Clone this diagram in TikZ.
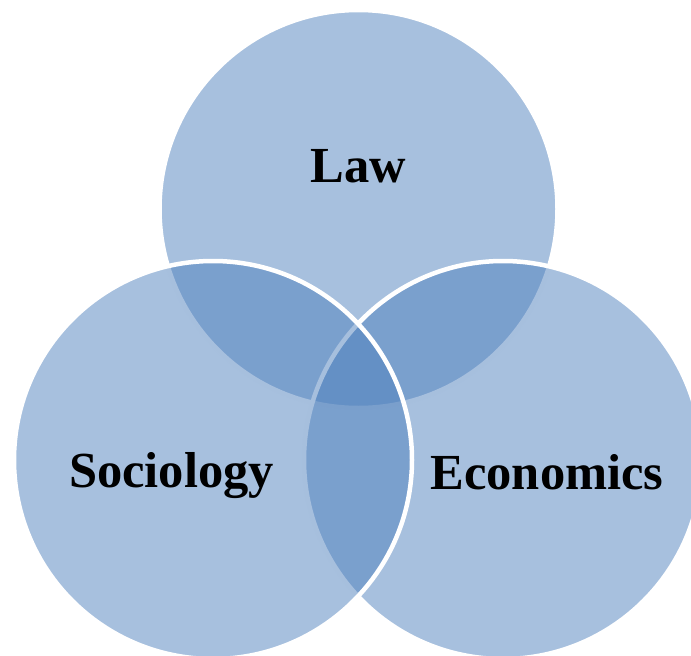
\documentclass[tikz,border=0pt]{standalone}
\usepackage{fontspec}
\setmainfont{Liberation Serif}
\definecolor{vennblue}{HTML}{4F81BD}
\begin{document}
\begin{tikzpicture}[x=1pt,y=-1pt,
  venn/.style={circle, minimum size=398pt, inner sep=0pt, fill=vennblue, fill opacity=0.5, draw=white, line width=4.5pt},
  vlabel/.style={anchor=base, font=\fontsize{50.5}{56}\selectfont\bfseries, text=black}]
  \useasboundingbox (0,0) rectangle (691,656);
  \clip (0,0) rectangle (691,656);
  % circles, drawn top, right, left
  \node[venn] (law) at (358.5,209) {};
  \node[venn] (econ) at (503,460) {};
  \node[venn] (soc) at (213,460) {};
  % labels
  \node[vlabel] (lawtext) at (358.5,182) {Law};
  \node[vlabel] (soctext) at (171.5,487.5) {Sociology};
  \node[vlabel] (econtext) at (547,489) {Economics};
\end{tikzpicture}
\end{document}
